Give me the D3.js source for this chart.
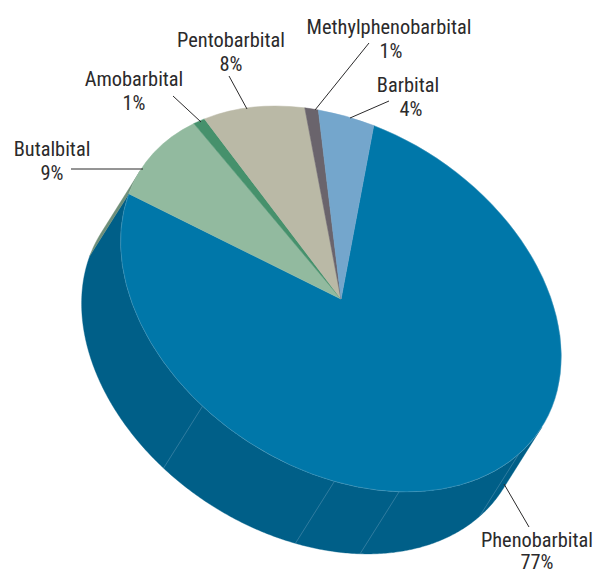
<!DOCTYPE html>
<html><head><meta charset="utf-8">
<script src="https://cdn.jsdelivr.net/npm/d3@7"></script>
<style>html,body{margin:0;padding:0;background:#fff}svg{display:block}
text{font-family:"Liberation Sans Narrow","Roboto Condensed","Liberation Sans",sans-serif;font-size:20.4px;fill:#2b2a2b;text-anchor:middle}</style>
</head><body><div id="c"></div><script>
// Data, clockwise from the Phenobarbital slice
const categories = ["Phenobarbital","Butalbital","Amobarbital","Pentobarbital","Methylphenobarbital","Barbital"];
const values = [77,9,1,8,1,4];
const topColors = ["#0077a9","#92ba9f","#46916c","#bab9a6","#6a646c","#74a6cc"];
const sideColors = ["#005f88","#6f8f7a","#36704f","#8f8e7f","#514c52","#597f9d"];
// Facet seams on the outer wall of the Phenobarbital slice (degrees clockwise from top)
const seamAngles = [134.4,172.8,189.8,227];

// Layout: projection of the tilted disc and annotation placement
const W=593,H=569;
const cx=341,cy=299;
const tilt={a:218.2,b:31,c:31,d:190.4};
const depth={x:-39,y:62};
const startDeg=16.6;
const labelLayout=[
 {x:537,y:547,px:537,py:569,line:[504,484,529,527]},
 {x:52,y:156,px:52,py:180,line:[143,169,71,169]},
 {x:134,y:86,px:134,py:110,line:[201,122,173,96]},
 {x:231,y:47,px:231,py:71,line:[247,109,229,76]},
 {x:389,y:34,px:391,py:58,line:[315,110,369,43]},
 {x:408,y:92,px:411,py:116,line:[350,118,389,101]}
];

const rad=d=>d*Math.PI/180;
const svg=d3.select("#c").append("svg").attr("width",W).attr("height",H);
const pie=d3.pie().sort(null).startAngle(rad(startDeg)).endAngle(rad(startDeg+360));
const arcs=pie(values);
const proj=t=>{const u=Math.sin(t),v=-Math.cos(t);
  return [cx+tilt.a*u+tilt.b*v, cy+tilt.c*u+tilt.d*v];};
const line=d3.line();

// the part of the rim whose wall faces the viewer
const det=tilt.a*tilt.d-tilt.b*tilt.c;
const ex=( tilt.d*depth.x-tilt.b*depth.y)/det, ey=(-tilt.c*depth.x+tilt.a*depth.y)/det;
// rim point (sin t,-cos t) has outward normal equal to itself: facing when sin t*ex - cos t*ey > 0
const phi=Math.atan2(-ey,ex); // sin t*ex - cos t*ey = R sin(t+phi)
let t0=-phi; // start of front-facing half, increasing clockwise
while(t0<rad(startDeg)) t0+=2*Math.PI;
const ranges=[[t0,t0+Math.PI],[t0-2*Math.PI,t0-Math.PI]];

const wall=d=>{
  let out="";
  ranges.forEach(([lo,hi])=>{
    const s=Math.max(lo,d.startAngle), e=Math.min(hi,d.endAngle);
    if(e<=s) return;
    const n=Math.max(4,Math.ceil((e-s)/0.01));
    const ts=d3.range(n+1).map(i=>s+(e-s)*i/n);
    const front=ts.map(proj);
    const back=ts.slice().reverse().map(proj).map(p=>[p[0]+depth.x,p[1]+depth.y]);
    out+=line(front.concat(back))+"Z";
  });
  return out;
};
svg.append("g").selectAll("path").data(arcs).join("path")
  .attr("d",wall).attr("fill",(d,i)=>sideColors[i]).attr("stroke",(d,i)=>sideColors[i]).attr("stroke-width",.4);
// seams
svg.append("g").selectAll("line").data(seamAngles).join("line")
  .each(function(a){const p=proj(rad(a));
    d3.select(this).attr("x1",p[0]).attr("y1",p[1]).attr("x2",p[0]+depth.x).attr("y2",p[1]+depth.y);})
  .attr("stroke","#4f8fae").attr("stroke-width",.6);
// top face
const arc=d3.arc().innerRadius(0).outerRadius(1);
svg.append("g")
  .attr("transform",`matrix(${tilt.a},${tilt.c},${tilt.b},${tilt.d},${cx},${cy})`)
  .selectAll("path").data(arcs).join("path")
  .attr("d",arc).attr("fill",(d,i)=>topColors[i])
  .attr("stroke",(d,i)=>i===0?"#4f9dbf":topColors[i]).attr("stroke-width",.5)
  .attr("vector-effect","non-scaling-stroke");
// leaders + labels
const g=svg.append("g");
labelLayout.forEach((l,i)=>{
  g.append("line").attr("x1",l.line[0]).attr("y1",l.line[1]).attr("x2",l.line[2]).attr("y2",l.line[3])
    .attr("stroke","#2b2a2b").attr("stroke-width",1);
  g.append("text").attr("x",l.x).attr("y",l.y).text(categories[i]);
  g.append("text").attr("x",l.px).attr("y",l.py).text(values[i]+"%");
});
</script></body></html>
